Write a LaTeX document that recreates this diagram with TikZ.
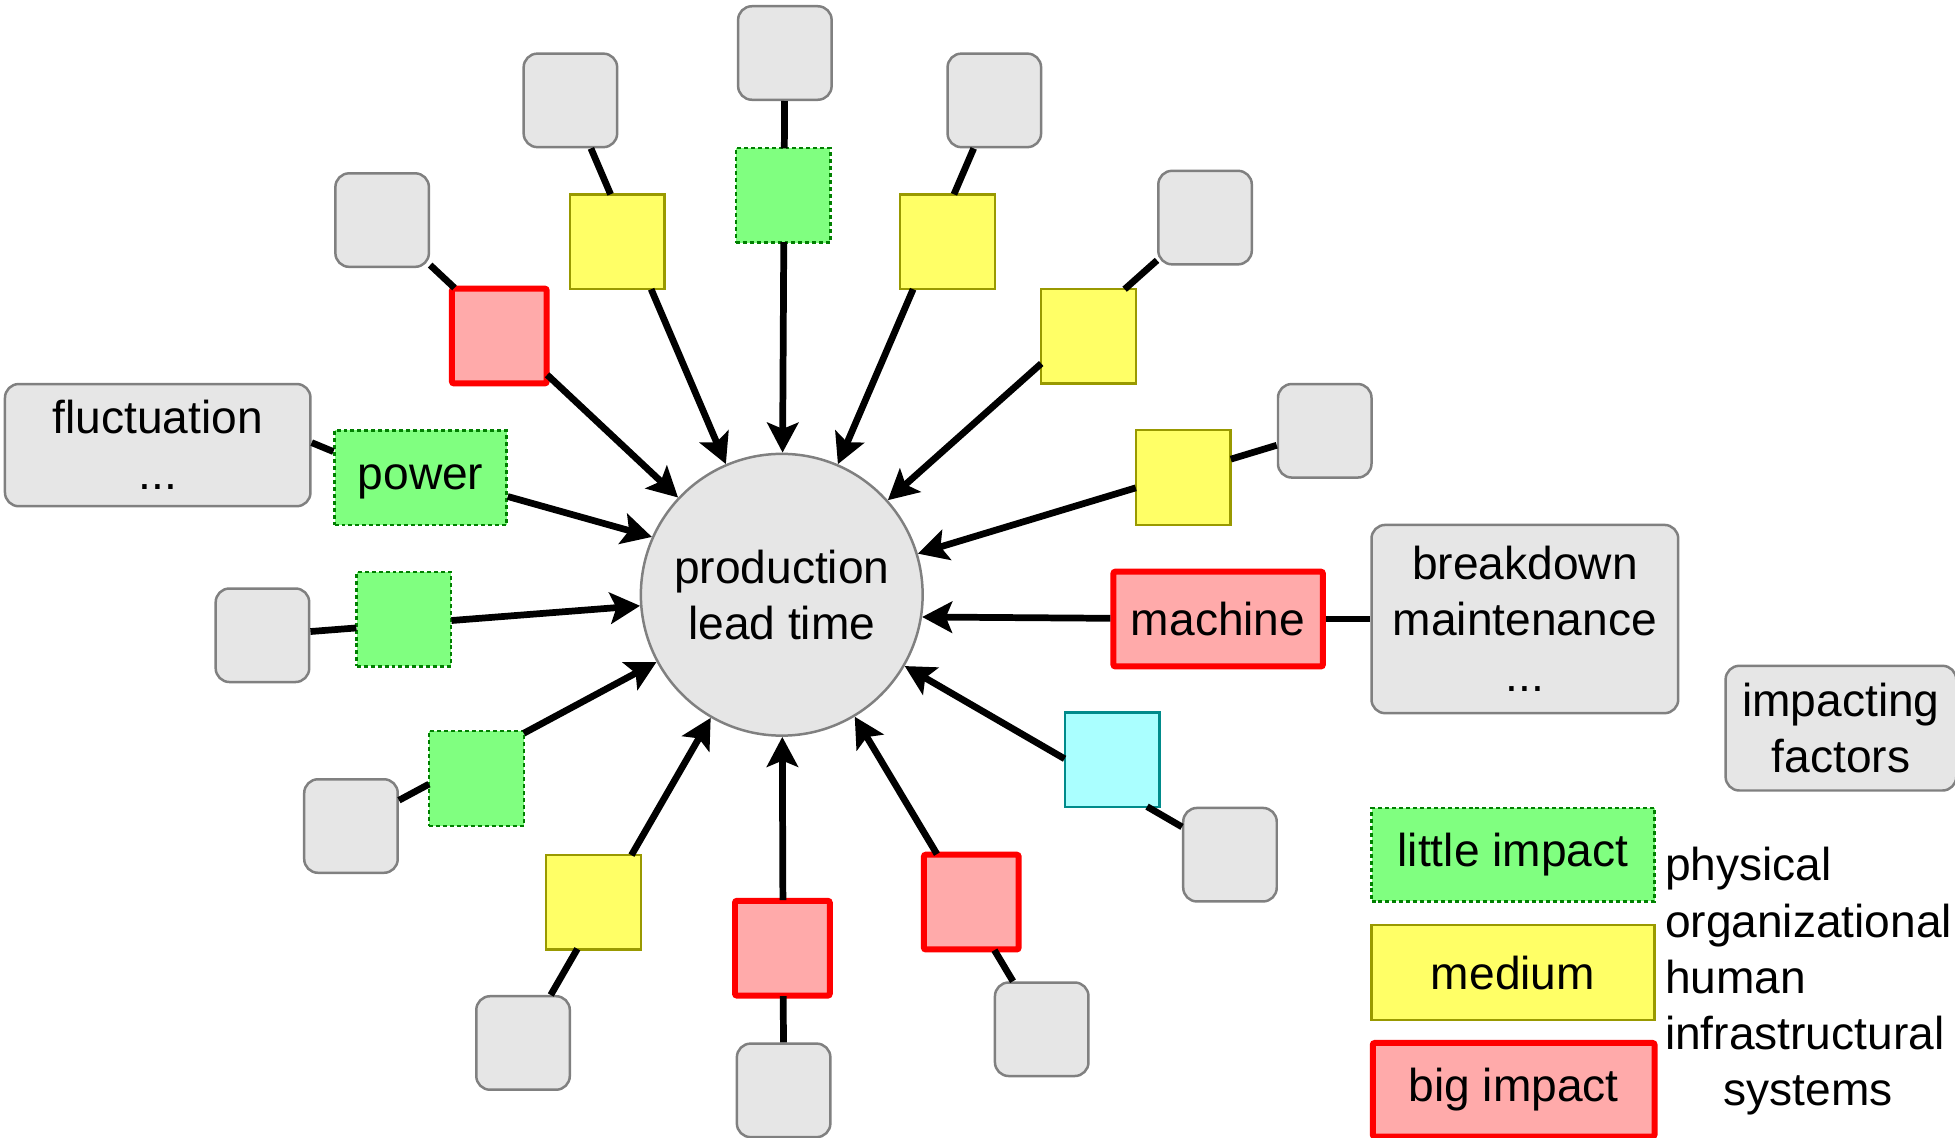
\documentclass[tikz,border=0pt]{standalone}
\usepackage{fontspec}
\setmainfont{Liberation Sans}
\usetikzlibrary{arrows.meta,calc}

\definecolor{boxgray}{HTML}{E6E6E6}
\definecolor{edgegray}{HTML}{808080}
\definecolor{lowfill}{HTML}{80FF80}
\definecolor{lowedge}{HTML}{008000}
\definecolor{medfill}{HTML}{FFFF66}
\definecolor{mededge}{HTML}{999900}
\definecolor{highfill}{HTML}{FFAAAA}
\definecolor{highedge}{HTML}{FF0000}
\definecolor{cyanfill}{HTML}{AAFFFF}
\definecolor{cyanedge}{HTML}{008B8B}

\begin{document}
\begin{tikzpicture}[x=0.5pt,y=-0.5pt,
  every node/.style={font=\fontsize{18.5}{22.5}\selectfont, inner sep=0pt},
  factor/.style={draw=edgegray, fill=boxgray, line width=1pt, rounded corners=5.5pt},
  leaf/.style={factor, minimum width=37.5pt, minimum height=37.5pt},
  sq/.style={minimum width=38pt, minimum height=38pt},
  low/.style={sq, fill=lowfill, draw=lowedge, line width=0.9pt, dash pattern=on 1.6pt off 1.2pt},
  med/.style={sq, fill=medfill, draw=mededge, line width=0.9pt},
  high/.style={sq, fill=highfill, draw=highedge, line width=2.4pt, rounded corners=0.8pt},
  misc/.style={sq, fill=cyanfill, draw=cyanedge, line width=0.9pt},
  conn/.style={line width=2.7pt},
  arr/.style={conn, -{Stealth[length=12pt,width=12.5pt,inset=2.5pt]}},
]
\useasboundingbox (0,0) rectangle (1568,912);

% centre
\node[circle, draw=edgegray, fill=boxgray, line width=1pt, minimum size=113pt, align=center] (c) at (627,477) {production\\lead time};

% outer grey factor boxes
\node[leaf] (gA) at (306.5,176.5) {};
\node[leaf] (gB) at (457.5,80.5) {};
\node[leaf] (gC) at (629.5,42.5) {};
\node[leaf] (gD) at (797.5,80.5) {};
\node[leaf] (gE) at (966.5,174.5) {};
\node[leaf] (gF) at (1062.5,345.5) {};
\node[leaf] (gH) at (210.5,509.5) {};
\node[leaf] (gI) at (281.5,662.5) {};
\node[leaf] (gJ) at (986.5,685.5) {};
\node[leaf] (gK) at (419.5,836.5) {};
\node[leaf] (gL) at (628.5,874.5) {};
\node[leaf] (gM) at (835.5,825.5) {};

% impact squares
\node[high] (sA) at (400.5,269.5) {};
\node[med]  (sB) at (495,194) {};
\node[low]  (sC) at (628,156.5) {};
\node[med]  (sD) at (760,194) {};
\node[med]  (sE) at (873,269.5) {};
\node[med]  (sF) at (949,383) {};
\node[low]  (sH) at (324,496.5) {};
\node[low]  (sI) at (382,624.5) {};
\node[misc] (sJ) at (892,609.5) {};
\node[med]  (sK) at (476,723.5) {};
\node[high] (sL) at (627.5,760.5) {};
\node[high] (sM) at (779,723.5) {};

% labelled factors
\node[factor, minimum width=122.5pt, minimum height=49pt, align=center] (fl) at (126.5,357) {fluctuation\\...};
\node[low, minimum width=69pt, text height=13.5pt, text depth=3.9pt] (pw) at (337.3,383.2) {power};
\node[high, minimum width=84pt] (m) at (977,496.5) {machine};
\node[factor, minimum width=123pt, minimum height=75.5pt, align=center] (bd) at (1223,496.5) {breakdown\\maintenance\\...};

% legend
\node[factor, minimum width=92.5pt, minimum height=50pt, align=center] (key) at (1476.5,584) {impacting\\factors};
\node[low, minimum width=113.5pt, minimum height=37.5pt] (lg1) at (1213.5,685.5) {little impact};
\node[med, minimum width=113.5pt, minimum height=38pt] (lg2) at (1213.5,780) {medium};
\node[high, minimum width=113pt, minimum height=37.5pt] (lg3) at (1214,874) {big impact};
\node[anchor=west, align=left, text width=116pt] (cats) at (1335,787) {physical\\organizational\\human\\infrastructural\\\hspace*{23.5pt}systems};

% border points of the squares on the radial lines
\foreach \n/\near/\far in {A/0.587/0.819, B/0.618/0.810, C/0.651/0.824, D/0.618/0.810,
                           E/0.613/0.810, F/0.652/0.827, H/0.636/0.819, I/0.599/0.819,
                           J/0.631/0.815, K/0.581/0.790, L/0.616/0.810, M/0.597/0.818}{
  \coordinate (in\n) at ($(c)!\far!(g\n)$);
  \coordinate (out\n) at ($(c)!\near!(g\n)$);
  \draw[conn] (g\n) -- (in\n);
  \draw[arr] (out\n) -- (c);
}

\draw[conn] ([yshift=1pt]fl.east) -- ([yshift=10.5pt]pw.west);
\draw[arr] ([yshift=-7.5pt]pw.east) -- (c.156);
\draw[conn] (m) -- (bd);
\draw[arr] (m) -- (c.-9.94);
\end{tikzpicture}
\end{document}
